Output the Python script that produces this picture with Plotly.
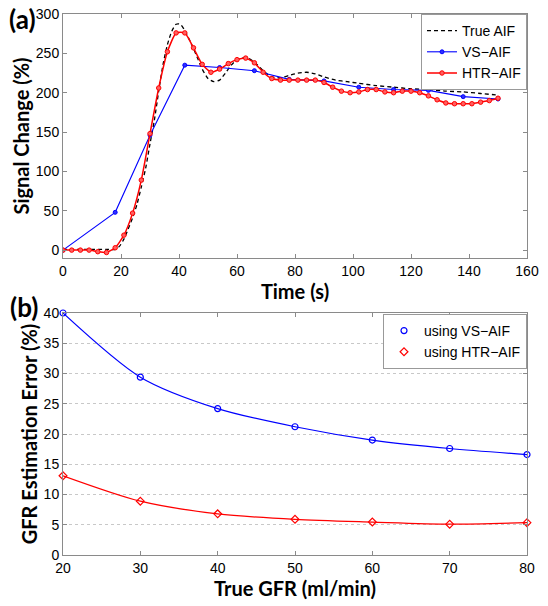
import plotly.graph_objects as go

# ---------------- data: panel (a) ----------------
true_t = [0, 5, 10, 15, 18, 19.5, 21, 22.5, 24, 25.5, 27, 28.5, 30, 31.5, 33, 34.5, 36, 37.5,
          39, 40.5, 42, 43.5, 45, 46.5, 48, 50, 52, 54, 56, 58, 60, 63, 66, 69, 72, 75, 78,
          81, 84, 87, 90, 94, 98, 102, 108, 114, 120, 126, 132, 138, 144, 150]
true_v = [1, 1, 1, 1, 1, 5, 14, 27, 41, 58, 80, 104, 135, 165, 202, 236, 261, 278,
          287, 287, 279, 268, 256, 243, 230, 218, 214, 216, 225, 235, 242, 245, 239, 228, 220, 219, 222,
          225, 226, 224, 220, 216, 214, 212, 209, 207, 205, 204, 202, 201, 199, 197]

vs_t = [0, 18, 30, 42, 54, 66, 78, 90, 102, 114, 126, 138, 150]
vs_v = [0, 48, 146, 235, 232, 228, 217, 215, 207, 204, 203, 195, 192]

htr_t = [0, 3, 6, 9, 12, 15, 18, 21, 24, 27, 30, 33, 36, 39, 42, 45, 48, 51, 54, 57, 60,
         63, 66, 69, 72, 75, 78, 81, 84, 87, 90, 93, 96, 99, 102, 105, 108, 111, 114, 117,
         120, 123, 126, 129, 132, 135, 138, 141, 144, 147, 150]
htr_v = [0, 0, 0, 0, -2, -3, 3, 19, 47, 89, 148, 206, 252, 276, 276, 257, 236, 226, 230, 237, 242,
         244, 238, 226, 218, 216, 216, 216, 216, 216, 213, 207, 202, 200, 201, 204, 204, 201, 200, 202,
         202, 200, 196, 191, 187, 186, 186, 186, 188, 190, 193]

# ---------------- data: panel (b) ----------------
gfr = [20, 30, 40, 50, 60, 70, 80]
err_vs = [40.0, 29.4, 24.2, 21.2, 19.0, 17.6, 16.6]
err_htr = [13.1, 8.9, 6.8, 5.9, 5.45, 5.1, 5.35]

x_ticks_a = [0, 20, 40, 60, 80, 100, 120, 140, 160]
y_ticks_a = [0, 50, 100, 150, 200, 250, 300]
x_ticks_b = [20, 30, 40, 50, 60, 70, 80]
y_ticks_b = [0, 5, 10, 15, 20, 25, 30, 35, 40]

MINUS = "\u2212"
TICKFONT = dict(family="Liberation Sans, Arial, sans-serif", size=14, color="black")
TITLEFONT = dict(family="Lato, Open Sans, sans-serif", size=20, color="black", weight="bold")
LEGFONT = dict(family="Liberation Sans, Arial, sans-serif", size=14, color="black")
AXCOL = "#8a8a8a"

fig = go.Figure()

# panel (a)
fig.add_trace(go.Scatter(x=true_t, y=true_v, mode="lines", name="True AIF",
                         line=dict(color="black", dash="4px,3px", width=1.3, shape="spline", smoothing=0.6),
                         xaxis="x", yaxis="y", legend="legend"))
fig.add_trace(go.Scatter(x=vs_t, y=vs_v, mode="lines+markers", name="VS" + MINUS + "AIF",
                         line=dict(color="#0000ff", width=1.1),
                         marker=dict(symbol="circle", size=4, color="#3030ff", line=dict(color="#0000ff", width=1)),
                         xaxis="x", yaxis="y", legend="legend"))
fig.add_trace(go.Scatter(x=htr_t, y=htr_v, mode="lines+markers", name="HTR" + MINUS + "AIF",
                         line=dict(color="#ff0000", width=1.5, shape="spline", smoothing=0.5),
                         marker=dict(symbol="circle", size=4.5, color="#ff6060", line=dict(color="#ff0000", width=1)),
                         xaxis="x", yaxis="y", legend="legend"))

# panel (b) curves
fig.add_trace(go.Scatter(x=gfr, y=err_vs, mode="lines", showlegend=False,
                         line=dict(color="#0000ff", width=1.2, shape="spline", smoothing=0.8),
                         xaxis="x2", yaxis="y2", hoverinfo="skip"))
fig.add_trace(go.Scatter(x=gfr, y=err_htr, mode="lines", showlegend=False,
                         line=dict(color="#ff0000", width=1.2, shape="spline", smoothing=0.8),
                         xaxis="x2", yaxis="y2", hoverinfo="skip"))
fig.add_trace(go.Scatter(x=gfr, y=err_vs, mode="markers", name="using VS" + MINUS + "AIF",
                         marker=dict(symbol="circle-open", size=6, color="#0000ff", line=dict(width=1.2)),
                         xaxis="x2", yaxis="y2", legend="legend2", cliponaxis=False))
fig.add_trace(go.Scatter(x=gfr, y=err_htr, mode="markers", name="using HTR" + MINUS + "AIF",
                         marker=dict(symbol="diamond-open", size=6, color="#ff0000", line=dict(width=1.2)),
                         xaxis="x2", yaxis="y2", legend="legend2", cliponaxis=False))

axis_common = dict(showline=True, linecolor=AXCOL, linewidth=1, mirror="ticks", ticks="inside",
                   ticklen=4, tickcolor=AXCOL, tickfont=TICKFONT, zeroline=False, automargin=False,
                   ticklabeloverflow="allow")

fig.update_layout(
    width=548, height=606,
    margin=dict(l=63, r=21, t=14, b=51),
    paper_bgcolor="white", plot_bgcolor="white",
    xaxis=dict(domain=[0, 1], range=[0, 160], tickvals=x_ticks_a, showgrid=False, anchor="y",
               title=dict(text="Time (s)", font=TITLEFONT, standoff=2), **axis_common),
    yaxis=dict(domain=[0.549, 1], range=[-10, 300], tickvals=y_ticks_a, showgrid=False, anchor="x",
               title=dict(text="Signal Change (%)", font=TITLEFONT, standoff=0), **axis_common),
    xaxis2=dict(domain=[0, 1], range=[20, 80], tickvals=x_ticks_b, showgrid=False, anchor="y2",
                title=dict(text="True GFR (ml/min)", font=TITLEFONT, standoff=2), **axis_common),
    yaxis2=dict(domain=[0, 0.4473], range=[0, 40], tickvals=y_ticks_b, anchor="x2",
                showgrid=True, gridcolor="#c8c8c8", griddash="dot", gridwidth=1,
                title=dict(text="GFR Estimation Error (%)", font=TITLEFONT, standoff=0), **axis_common),
    legend=dict(x=1, y=1, xanchor="right", yanchor="top", bgcolor="white",
                bordercolor="#999999", borderwidth=1, itemwidth=30, tracegroupgap=0,
                font=LEGFONT),
    legend2=dict(x=1, y=0.4455, xanchor="right", yanchor="top", bgcolor="white",
                 bordercolor="#999999", borderwidth=1, itemwidth=30, tracegroupgap=0,
                 font=LEGFONT),
    annotations=[
        dict(text="(a)", xref="paper", yref="paper", x=-0.088, y=0.991, xanchor="center", yanchor="middle",
             showarrow=False, font=dict(family="Lato, Open Sans, sans-serif", size=26, color="black", weight="bold")),
        dict(text="(b)", xref="paper", yref="paper", x=-0.085, y=0.458, xanchor="center", yanchor="middle",
             showarrow=False, font=dict(family="Lato, Open Sans, sans-serif", size=26, color="black", weight="bold")),
    ],
)

# remove the default page margin so the 548x606 figure fills the window exactly
fig.write_html("out.html", config={"displayModeBar": False},
               post_script="document.body.style.margin='0';document.body.style.padding='0';")
